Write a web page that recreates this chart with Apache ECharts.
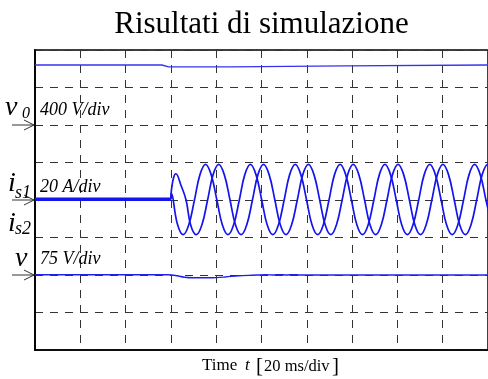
<!DOCTYPE html>
<html><head><meta charset="utf-8">
<script src="https://cdn.jsdelivr.net/npm/echarts/dist/echarts.min.js"></script>
<style>html,body{margin:0;padding:0;background:#fff}#c{width:488px;height:379px}</style>
</head><body><div id="c"></div>
<script>
// ---- data (time in ms, values in physical units) ----
const timeTicks = [0, 20, 40, 60, 80, 100, 120, 140, 160, 180, 200];
const title = 'Risultati di simulazione';

// output DC voltage v0 [V], 400 V/div
const v0Data = [[0,640],[56,640],[59,620],[86.5,620],[87,630],[137,630],[137.5,640],[200,640]];

// pre-trigger current (both is1 and is2, noisy) [A]
const isPre = [[0,0.4],[60,0.4]];

// phase current is1 [A], 20 A/div
const is1Data = [[60,0.4],[60.2,3.5],[62.8,-12.5],[65.4,-18.5],[67.9,-13.2],[70.4,0],[72.8,13.4],[75.3,19],[77.8,13.4],[80.3,0],[82.7,-13.2],[85.2,-18.5],[87.7,-13.2],[90.2,0],[92.6,13.4],[95.1,19],[97.6,13.4],[100.1,0],[102.5,-13.2],[105.0,-18.5],[107.5,-13.2],[110.0,0],[112.4,13.4],[114.9,19],[117.4,13.4],[119.9,0],[122.3,-13.2],[124.8,-18.5],[127.3,-13.2],[129.8,0],[132.2,13.4],[134.7,19],[137.2,13.4],[139.7,0],[142.1,-13.2],[144.6,-18.5],[147.1,-13.2],[149.6,0],[152.0,13.4],[154.5,19],[157.0,13.4],[159.5,0],[161.9,-13.2],[164.4,-18.5],[166.9,-13.2],[169.4,0],[171.8,13.4],[174.3,19],[176.8,13.4],[179.3,0],[181.7,-13.2],[184.2,-18.5],[186.7,-13.2],[189.2,0],[191.6,13.4],[194.1,19],[196.6,13.4],[199.1,0],[201.6,-13.2]];

// phase current is2 [A], 20 A/div
const is2Data = [[60,0.4],[60.2,5],[61.2,12],[62.2,14],[64.4,8],[66.7,0],[68.7,-13.2],[71.2,-18.5],[73.7,-13.2],[76.2,0],[78.6,13.4],[81.1,19],[83.6,13.4],[86.1,0],[88.5,-13.2],[91.0,-18.5],[93.5,-13.2],[96.0,0],[98.4,13.4],[100.9,19],[103.4,13.4],[105.9,0],[108.3,-13.2],[110.8,-18.5],[113.3,-13.2],[115.8,0],[118.2,13.4],[120.7,19],[123.2,13.4],[125.7,0],[128.1,-13.2],[130.6,-18.5],[133.1,-13.2],[135.6,0],[138.0,13.4],[140.5,19],[143.0,13.4],[145.5,0],[147.9,-13.2],[150.4,-18.5],[152.9,-13.2],[155.4,0],[157.8,13.4],[160.3,19],[162.8,13.4],[165.3,0],[167.7,-13.2],[170.2,-18.5],[172.7,-13.2],[175.2,0],[177.6,13.4],[180.1,19],[182.6,13.4],[185.1,0],[187.5,-13.2],[190.0,-18.5],[192.5,-13.2],[195.0,0],[197.4,13.4],[199.9,19],[202.4,13.4]];

// voltage v [V], 75 V/div
const vData = [[0,0.5],[59,0.5],[62,-1],[66,-4.5],[70,-5.5],[78,-5.5],[84,-4],[90,-1.5],[96,-0.5],[102,0.5],[105,0],[108,0.8],[111,0],[114,0.8],[117,0],[200,0]];

// channel settings: reference level (div) and scale (units/div)
const chV0 = {offset: 6, scale: 400};
const chIs = {offset: 4, scale: 20};
const chV  = {offset: 2, scale: 75};

// ---- chart ----
const chart = echarts.init(document.getElementById('c'), null, {renderer: 'canvas'});
const SERIF = '"Liberation Serif","Times New Roman",serif';
const BLUE = '#1414ec';
const toDiv = (arr, ch) => arr.map(d => [d[0], ch.offset + d[1] / ch.scale]);
const dash = {color: '#333', width: 1, type: [8, 7]};

chart.setOption({
  animation: false,
  grid: {left: 35, top: 50, width: 456, height: 300, show: true, borderColor: '#000', borderWidth: 1.5, backgroundColor: 'transparent'},
  xAxis: {type: 'value', min: timeTicks[0], max: timeTicks[timeTicks.length-1], interval: 20,
    axisLine: {show: true, lineStyle: {color: '#000', width: 1.5}}, axisTick: {show: false}, axisLabel: {show: false},
    splitLine: {show: true, lineStyle: dash}},
  yAxis: {type: 'value', min: 0, max: 8, interval: 1,
    axisLine: {show: true, lineStyle: {color: '#000', width: 1.8}}, axisTick: {show: false}, axisLabel: {show: false},
    splitLine: {show: true, lineStyle: dash}},
  series: [
    {name: 'v0', type: 'line', data: toDiv(v0Data, chV0), showSymbol: false, lineStyle: {color: '#3434f0', width: 1.3}},
    {name: 'is pre', type: 'line', data: toDiv(isPre, chIs), showSymbol: false, lineStyle: {color: BLUE, width: 3.5}},
    {name: 'is1', type: 'line', data: toDiv(is1Data, chIs), showSymbol: false, smooth: 0.4, lineStyle: {color: BLUE, width: 1.7}},
    {name: 'is2', type: 'line', data: toDiv(is2Data, chIs), showSymbol: false, smooth: 0.4, lineStyle: {color: BLUE, width: 1.7}},
    {name: 'v', type: 'line', data: toDiv(vData, chV), showSymbol: false, smooth: 0.3, lineStyle: {color: '#2020ee', width: 1.4}}
  ]
});

// ---- annotations ----
function px(t) { return chart.convertToPixel({xAxisIndex: 0}, t); }
function py(d) { return chart.convertToPixel({yAxisIndex: 0}, d); }
function txt(s, x, base, size, italic, align) {
  return {type: 'text', z: 100, style: {text: s, x: x, y: base - 0.32 * size,
    font: (italic ? 'italic ' : '') + size + 'px ' + SERIF, fill: '#000',
    align: align || 'left', verticalAlign: 'middle'}};
}
function arrow(y) {
  const x1 = px(0) - 1;
  return {type: 'group', z: 100, children: [
    {type: 'line', shape: {x1: x1 - 22, y1: y, x2: x1, y2: y}, style: {stroke: '#333', lineWidth: 1}},
    {type: 'polyline', shape: {points: [[x1 - 10, y - 5], [x1, y], [x1 - 10, y + 5]]}, style: {stroke: '#333', lineWidth: 1, fill: null}}
  ]};
}
const yV0 = py(chV0.offset), yIs = py(chIs.offset), yV = py(chV.offset);
const cx = (px(0) + px(200)) / 2;
const g = [
  txt(title, cx, 35, 31, false, 'center'),
  arrow(yV0), arrow(yIs), arrow(yV),
  txt('v', 5, yV0 - 8, 28, true), txt('0', 22, yV0 - 6, 16, true), txt('400 V/div', 40, yV0 - 9, 18, true),
  txt('i', 8, yIs - 7, 28, true), txt('s1', 15, yIs - 1, 18, true), txt('20 A/div', 40, yIs - 7, 18, true),
  txt('i', 8, yIs + 33, 28, true), txt('s2', 15, yIs + 35, 18, true),
  txt('v', 15, yV - 7, 28, true), txt('75 V/div', 40, yV - 10, 18, true),
  txt('Time', 202, 371, 17, false), txt('t', 245, 371, 17, true),
  txt('[', 256, 373, 21, false), txt('20 ms/div', 264, 372, 16.5, false), txt(']', 332, 373, 21, false)
];
chart.setOption({graphic: g});
</script>
</body></html>
